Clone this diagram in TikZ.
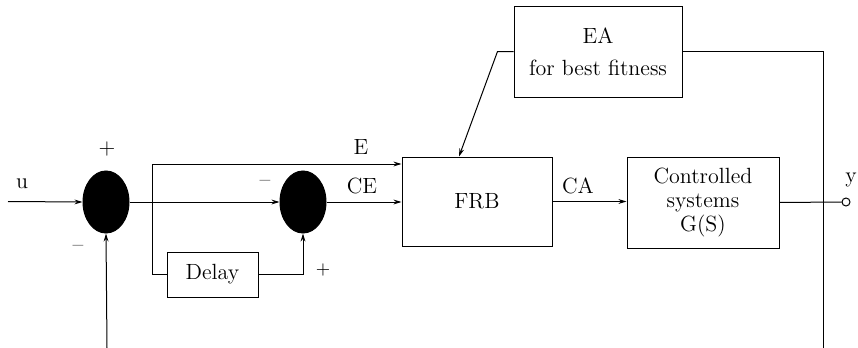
\documentclass[tikz,border=0pt]{standalone}
\usetikzlibrary{shapes.geometric,arrows.meta}
\begin{document}
\begin{tikzpicture}[x=0.5pt,y=-0.5pt,line width=0.5pt,
  font=\fontsize{11}{12}\selectfont,
  arr/.style={-{Stealth[length=4pt,width=2.4pt]}},
  sumnode/.style={ellipse,fill=black,draw=black,minimum width=23pt,minimum height=31pt,inner sep=0pt},
  blk/.style={draw,rectangle,align=center,inner sep=1pt},
  lbl/.style={inner sep=0pt}]
\useasboundingbox (0,0) rectangle (858,348);
% blocks
\node[sumnode] (s1) at (106,202) {};
\node[sumnode] (s2) at (303,202) {};
\node[blk,minimum width=75pt,minimum height=44.5pt] (frb) at (477,201.5) {FRB};
\node[blk,minimum width=84pt,minimum height=45.5pt] (ea) at (598,51.5) {EA\\[4pt]for best fitness};
\node[blk,minimum width=76pt,minimum height=45.5pt,font=\fontsize{11}{12}\selectfont] (gs) at (703,202.5) {Controlled\\systems\\G(S)};
\node[blk,minimum width=45.5pt,minimum height=22.5pt] (delay) at (212.5,274.5) {Delay};
\node[circle,draw,fill=white,minimum size=4pt,inner sep=0pt] (yout) at (846,202) {};
% coordinates
\coordinate (uin) at (8,201.5);
\coordinate (br) at (152,202);
\coordinate (e) at (152,164);
\coordinate (fbl) at (107,348);
\coordinate (cr) at (823,51);
\coordinate (fbr) at (823,348);
% connectors
\draw[arr] (uin) -- (s1.west);
\draw[arr] (s1.east) -- (s2.west);
\draw[arr] (br) -- (e) -- (e -| frb.west);
\draw (br) |- (delay.west);
\draw[arr] (delay.east) -| (s2.south);
\draw[arr] (s2.east) -- (s2.east -| frb.west);
\draw[arr] (ea.west) -- ++(-16,0) -- ([xshift=-9pt]frb.north);
\draw[arr] (frb.east) -- (frb.east -| gs.west);
\draw (gs.east) -- (yout.west);
\draw (ea.east |- cr) -- (cr) -- (fbr);
\draw[arr] (fbl) -- (s1.south);
% labels
\node[lbl] (lu) at (22,184) {u};
\node[lbl] (lp1) at (107,149) {+};
\node[lbl] (lm1) at (78,248) {\textendash};
\node[lbl] (lm2) at (265,183) {\textendash};
\node[lbl,font=\fontsize{9}{10}\selectfont] (lp2) at (323,270) {+};
\node[lbl] (le) at (361,147) {E};
\node[lbl] (lce) at (362,186) {CE};
\node[lbl] (lca) at (578,186) {CA};
\node[lbl] (ly) at (851,180) {y};
\end{tikzpicture}
\end{document}
